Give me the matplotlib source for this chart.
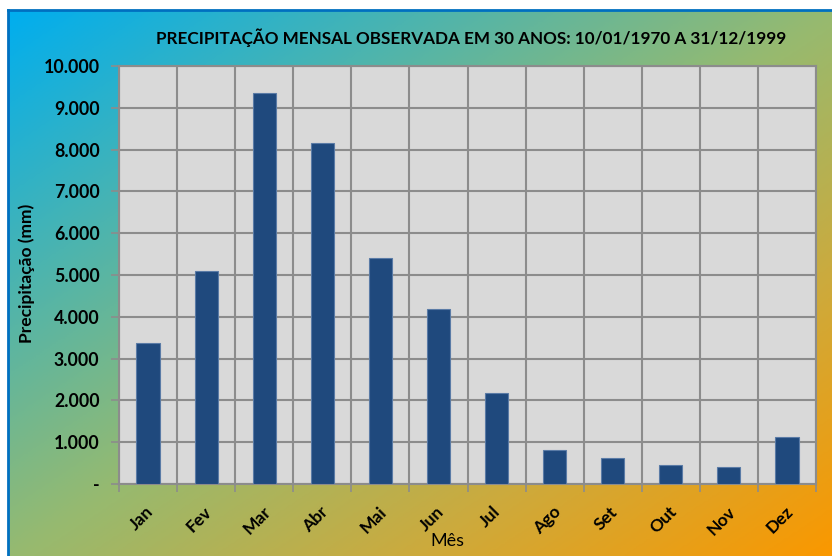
import numpy as np
import matplotlib
matplotlib.use("Agg")
import matplotlib.pyplot as plt
import matplotlib.transforms as mtransforms
from matplotlib.colors import LinearSegmentedColormap
from matplotlib.ticker import FixedLocator, FuncFormatter

months = ["Jan", "Fev", "Mar", "Abr", "Mai", "Jun", "Jul", "Ago", "Set", "Out", "Nov", "Dez"]
precip = [3380, 5100, 9350, 8150, 5400, 4190, 2180, 810, 630, 450, 410, 1120]
y_ticks = [0, 1000, 2000, 3000, 4000, 5000, 6000, 7000, 8000, 9000, 10000]

title = "PRECIPITAÇÃO MENSAL OBSERVADA EM 30 ANOS: 10/01/1970 A 31/12/1999"
ylabel = "Precipitação (mm)"
xlabel = "Mês"

W, H = 832, 556
fig = plt.figure(figsize=(W / 100, H / 100), dpi=100)
fig.patch.set_facecolor("white")

# background gradient
bx0, by0 = 8 / W, 0
bg = fig.add_axes([bx0, by0, 1 - bx0, 1 - 10 / H])
bg.set_axis_off()
nx, ny = 400, 300
xx, yy = np.meshgrid(np.linspace(0, 1, nx), np.linspace(0, 1, ny))
t = (xx + yy) / 2.0
cmap = LinearSegmentedColormap.from_list(
    "bgc",
    [(0.0, (0 / 255, 174 / 255, 239 / 255)),
     (0.5, (150 / 255, 186 / 255, 112 / 255)),
     (0.75, (205 / 255, 170 / 255, 60 / 255)),
     (1.0, (250 / 255, 152 / 255, 0 / 255))])
bg.imshow(t, cmap=cmap, aspect="auto", extent=[0, 1, 0, 1], origin="upper",
          interpolation="bilinear")
bg.set_xlim(0, 1)
bg.set_ylim(0, 1)
fig.add_artist(plt.Line2D([bx0, bx0], [0, 1 - 10 / H], color="#0070C0", lw=2, transform=fig.transFigure))
fig.add_artist(plt.Line2D([bx0, 1], [1 - 10 / H, 1 - 10 / H], color="#0070C0", lw=2, transform=fig.transFigure))

# main axes
left, right, top, bottom = 119, 816, 66, 484
ax = fig.add_axes([left / W, 1 - bottom / H, (right - left) / W, (bottom - top) / H])
ax.set_facecolor("#D9D9D9")

x = np.arange(len(months))
ax.bar(x, precip, width=0.4, color="#1F497D", edgecolor="#5A7BA6", linewidth=0.8, zorder=3)

ax.set_xlim(-0.5, len(months) - 0.5)
ax.set_ylim(0, 10000)

ax.yaxis.set_major_locator(FixedLocator(y_ticks))
ax.yaxis.set_major_formatter(FuncFormatter(lambda v, p: "-" if v == 0 else f"{int(v):,}".replace(",", ".")))
ax.set_xticks(x)
ax.set_xticklabels(months)
ax.xaxis.set_minor_locator(FixedLocator(np.arange(-0.5, len(months), 1.0)))

ax.grid(axis="y", which="major", color="#8C8C8C", lw=1.5, zorder=1)
ax.grid(axis="x", which="minor", color="#8C8C8C", lw=1.5, zorder=1)
ax.tick_params(axis="x", which="major", length=0, pad=14)
ax.tick_params(axis="x", which="minor", length=6, color="#8C8C8C", width=1.2)
ax.tick_params(axis="y", length=6, color="#8C8C8C", width=1.2, pad=8)

for s in ax.spines.values():
    s.set_color("#8C8C8C")
    s.set_linewidth(1.5)

fam = ["Lato", "DejaVu Sans"]
for lab in ax.get_yticklabels():
    lab.set_fontfamily(fam)
    lab.set_fontweight("bold")
    lab.set_fontsize(12.8)
offset = mtransforms.ScaledTranslation(-7 / 100, 0, fig.dpi_scale_trans)
for lab in ax.get_xticklabels():
    lab.set_fontfamily(fam)
    lab.set_fontweight("bold")
    lab.set_fontsize(12.5)
    lab.set_rotation(45)
    lab.set_ha("center")
    lab.set_va("top")
    lab.set_transform(lab.get_transform() + offset)

fig.text(471 / W, 1 - 38 / H, title, ha="center", va="center",
         family=fam, weight="bold", fontsize=12.3, color="black")
fig.text(27 / W, 1 - 273 / H, ylabel, ha="center", va="center", rotation=90,
         family=fam, weight="bold", fontsize=12.5)
fig.text(447 / W, 1 - 541 / H, xlabel, ha="center", va="center",
         family=fam, fontsize=13)

fig.savefig("out.png", dpi=100)
